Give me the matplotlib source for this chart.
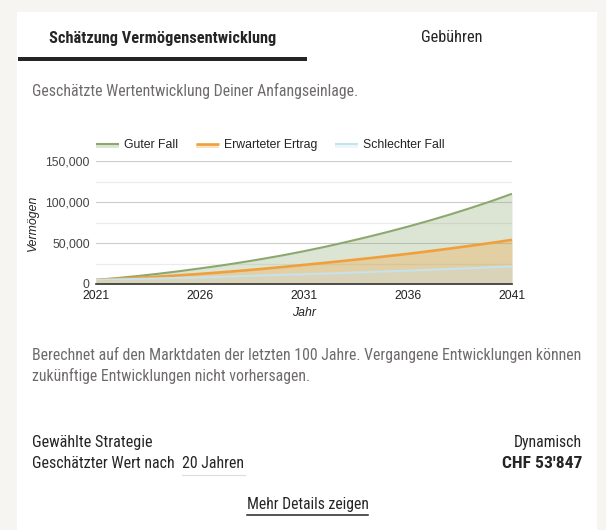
import matplotlib
matplotlib.use("Agg")
import matplotlib.pyplot as plt
from matplotlib import font_manager
from matplotlib.font_manager import FontProperties
from matplotlib.patches import Rectangle
from matplotlib.lines import Line2D
from matplotlib.legend_handler import HandlerBase

# ---------------- data (thousands CHF) ----------------
years = list(range(2021, 2042))
good_case = [5.0, 7.2, 9.7, 12.5, 15.6, 19.0, 22.5, 26.4, 30.6, 35.1, 40.0,
             45.3, 51.0, 57.0, 63.3, 70.0, 77.1, 84.6, 92.6, 101.0, 110.0]
expected = [5.0, 6.2, 7.55, 9.0, 10.6, 12.3, 14.2, 16.25, 18.45, 20.8, 23.3,
            25.8, 28.4, 31.1, 33.9, 36.8, 39.9, 43.2, 46.6, 50.1, 53.85]
bad_case = [5.0, 5.6, 6.2, 6.8, 7.4, 8.0, 8.8, 9.6, 10.4, 11.2, 12.0,
            12.8, 13.6, 14.5, 15.4, 16.3, 17.3, 18.3, 19.3, 20.4, 21.5]
series_names = ["Guter Fall", "Erwarteter Ertrag", "Schlechter Fall"]
x_ticks = [2021, 2026, 2031, 2036, 2041]
y_ticks = [0, 50000, 100000, 150000]
y_tick_labels = ["0", "50,000", "100,000", "150,000"]

# ---------------- style ----------------
W, H = 606, 530
colors = ["#8ca86e", "#f0a03a", "#c6e2ec"]
line_w = [1.5, 1.9, 1.5]
chart_font = "Liberation Sans"


def pick_font(bold=False):
    fl = font_manager.fontManager.ttflist
    prefs = ["roboto condensed", "liberation sans narrow", "open sans condensed",
             "dejavu sans condensed", "noto sans condensed", "noto sans"]
    for p in prefs:
        for f in fl:
            nm = f.name.lower()
            fname = f.fname.lower()
            is_bold = (f.weight in ("bold", 700) or
                       (isinstance(f.weight, int) and f.weight >= 600))
            if is_bold != bold or f.style != "normal":
                continue
            if p == "noto sans":
                if nm == "noto sans" and ("condensed" in fname or
                                           str(f.stretch) in ("condensed", "semi-condensed", "75", "87.5")):
                    return FontProperties(fname=f.fname)
                continue
            if p.split()[-1] in ("condensed", "narrow"):
                base = " ".join(p.split()[:-1])
                if (p in nm or p.replace(" ", "") in fname.replace("-", "").replace("_", "")
                        or (nm == base and (str(f.stretch) in ("condensed", "semi-condensed")
                                            or "condensed" in fname or "narrow" in fname))):
                    return FontProperties(fname=f.fname)
    return FontProperties(family="Roboto", weight="bold" if bold else "normal")


body_fp = pick_font(False)
body_fp_bold = pick_font(True)

fig = plt.figure(figsize=(W / 100, H / 100), dpi=100)
fig.patch.set_facecolor("#f6f5f1")
fig.add_artist(Rectangle((17 / W, 0), (597 - 17) / W, 1 - 12 / H,
                         transform=fig.transFigure, facecolor="white",
                         edgecolor="none", zorder=0))
fig.add_artist(Rectangle((18 / W, 1 - 61 / H), (307 - 18) / W, 4 / H,
                         transform=fig.transFigure, facecolor="#262424",
                         edgecolor="none", zorder=1))

renderer = fig.canvas.get_renderer()


def fit_text(x, y, s, width_px, ha="left", bold=False, **kw):
    fp = (body_fp_bold if bold else body_fp).copy()
    fp.set_size(10)
    t = fig.text(x / W, 1 - y / H, s, ha=ha, va="center", fontproperties=fp, **kw)
    bb = t.get_window_extent(renderer)
    t.set_fontsize(10 * width_px / bb.width)
    return t


dark = "#262424"
gray = "#6f6b6b"
fit_text(163, 38, "Schätzung Vermögensentwicklung", 226, ha="center",
         color=dark, bold=True)
fit_text(452, 37, "Gebühren", 62, ha="center", color=dark)
fit_text(32, 91, "Geschätzte Wertentwicklung Deiner Anfangseinlage.", 325, color=gray)
fit_text(32, 355, "Berechnet auf den Marktdaten der letzten 100 Jahre. "
         "Vergangene Entwicklungen können", 548, color=gray)
fit_text(32, 376, "zukünftige Entwicklungen nicht vorhersagen.", 277, color=gray)
fit_text(32, 442, "Gewählte Strategie", 120, color=dark)
fit_text(32, 463, "Geschätzter Wert nach", 142, color=dark)
fit_text(182, 463, "20 Jahren", 62, color=dark)
fit_text(582, 442, "Dynamisch", 68, ha="right", color=dark)
fit_text(582, 463, "CHF 53'847", 80, ha="right", color=dark, bold=True)
fit_text(308, 504, "Mehr Details zeigen", 121, ha="center", color=dark)
fig.add_artist(Line2D([182 / W, 245 / W], [1 - 475 / H, 1 - 475 / H],
                      transform=fig.transFigure, color="#dcdcdc", lw=0.8))
fig.add_artist(Line2D([247 / W, 368 / W], [1 - 515 / H, 1 - 515 / H],
                      transform=fig.transFigure, color=dark, lw=1.1))

# ---------------- chart ----------------
ax = fig.add_axes([96 / W, (H - 284) / H, 416 / W, 123 / H])
ax.set_facecolor("none")
vals = [[v * 1000 for v in s] for s in (good_case, expected, bad_case)]
for v, c in zip(vals, colors):
    ax.fill_between(years, 0, v, color=c, alpha=0.3, linewidth=0, zorder=2)
for v, c, lw in zip(vals, colors, line_w):
    ax.plot(years, v, color=c, lw=lw, zorder=3, solid_capstyle="butt")

ax.set_xlim(2021, 2041)
ax.set_ylim(0, 150000)
ax.set_xticks(x_ticks)
ax.set_xticklabels([str(t) for t in x_ticks], family=chart_font, fontsize=8.8, color="#222222")
ax.set_yticks(y_ticks)
ax.set_yticklabels(y_tick_labels, family=chart_font, fontsize=8.8, color="#444444")
ax.set_yticks([25000, 75000, 125000], minor=True)
ax.tick_params(axis="both", which="both", length=0)
ax.tick_params(axis="x", pad=4.5)
ax.tick_params(axis="y", pad=4.5)
ax.grid(axis="y", which="major", color="#cccccc", lw=0.8, zorder=1)
ax.grid(axis="y", which="minor", color="#ebebeb", lw=0.8, zorder=1)
for side in ("top", "right", "left"):
    ax.spines[side].set_visible(False)
ax.spines["bottom"].set_color("#333333")
ax.spines["bottom"].set_linewidth(1.2)
ax.spines["bottom"].set_zorder(4)

ax.set_ylabel("Vermögen", family=chart_font, fontsize=8.8, style="italic", color="#222222")
ax.yaxis.set_label_coords(-57 / 416, 0.5)
ax.set_xlabel("Jahr", family=chart_font, fontsize=8.8, style="italic", color="#222222")
ax.xaxis.set_label_coords(0.5, -(307 - 284) / 123)


class AreaHandler(HandlerBase):
    def __init__(self, color, lw):
        super().__init__()
        self.color = color
        self.lw = lw

    def create_artists(self, legend, orig_handle, xdescent, ydescent, width,
                       height, fontsize, trans):
        yc = height / 2 - ydescent
        rect = Rectangle((-xdescent, yc - height * 0.55), width, height * 0.55,
                         facecolor=self.color, alpha=0.3, edgecolor="none",
                         transform=trans)
        ln = Line2D([-xdescent, -xdescent + width], [yc, yc], color=self.color,
                    lw=self.lw, transform=trans, solid_capstyle="butt")
        return [rect, ln]


handles = [Line2D([], [], color=c) for c in colors]
handler_map = {h: AreaHandler(c, lw) for h, c, lw in zip(handles, colors, line_w)}
leg = ax.legend(handles, series_names, handler_map=handler_map, ncol=3,
                frameon=False, loc="center left",
                bbox_to_anchor=(0.0, 1 + 16 / 123),
                prop={"family": chart_font, "size": 8.8},
                handlelength=1.85, handletextpad=0.45, columnspacing=1.45,
                borderaxespad=0, borderpad=0)
for t in leg.get_texts():
    t.set_color("#222222")

fig.savefig("out.png", dpi=100, facecolor=fig.get_facecolor())
